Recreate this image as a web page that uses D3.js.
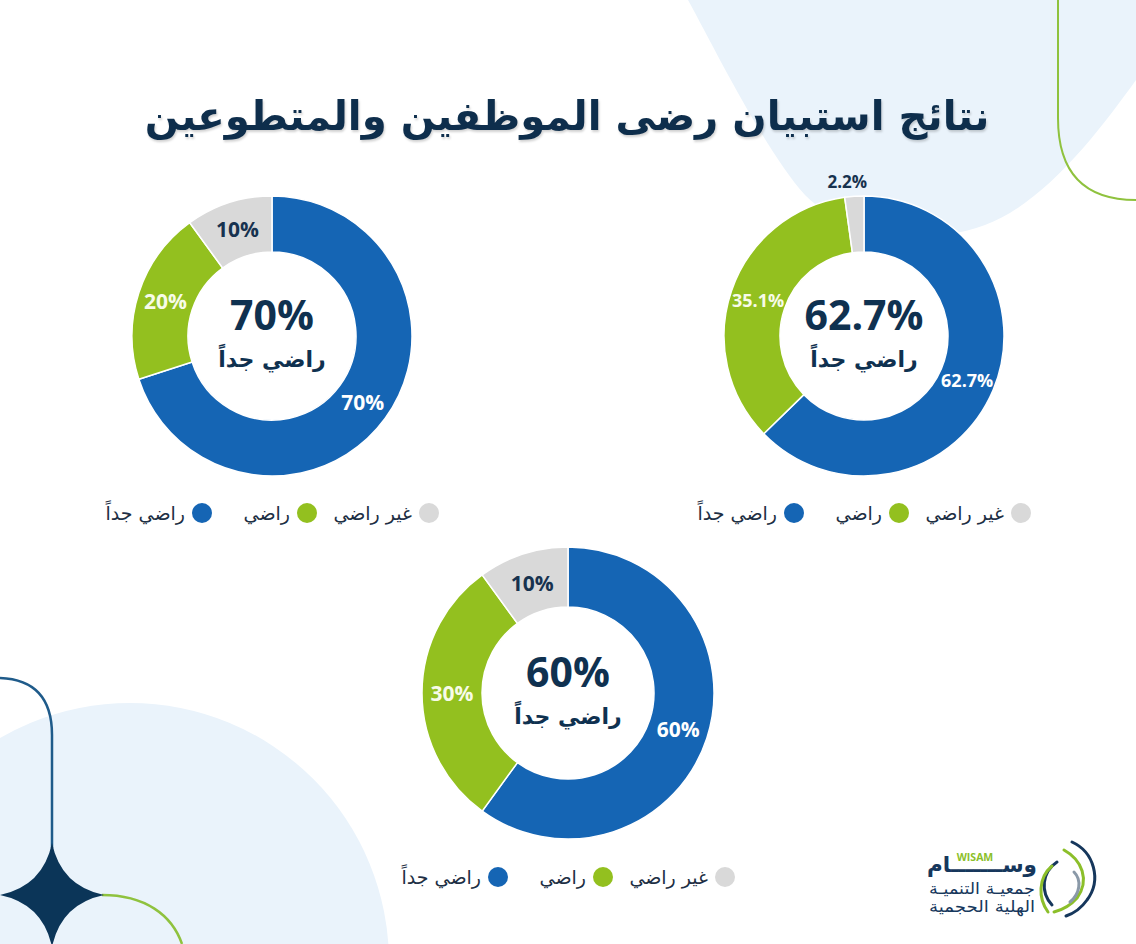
<!DOCTYPE html>
<html>
<head>
<meta charset="utf-8">
<script src="https://cdn.jsdelivr.net/npm/d3@7/dist/d3.min.js"></script>
<style>
  html, body { margin: 0; padding: 0; background: #ffffff; }
  svg { display: block; }
</style>
</head>
<body>
<svg id="chart" width="1136" height="944"></svg>
<script>
// ---- data ----
const titleText = "نتائج استبيان رضى الموظفين والمتطوعين";
const categories = ["راضي جداً", "راضي", "غير راضي"];
const survey1 = [62.7, 35.1, 2.2];   // top-right donut
const survey2 = [70, 20, 10];        // top-left donut
const survey3 = [60, 30, 10];        // bottom donut
const centerCaption = "راضي جداً";
const logoName = "وســـــــام";
const logoLatin = "WISAM";
const logoLine1 = "جمعيـة التنميـة";
const logoLine2 = "الهلية الحجمية";

// ---- style / layout ----
const palette = ["#1565b4", "#93c01f", "#d9d9d9"];
const labelFill = ["#ffffff", "#f7fbe8", "#17324f"];
const navy = "#0f3150";
const arabicFont = "'DejaVu Sans', 'Noto Sans', sans-serif";
const numFont = "'Open Sans', 'Noto Sans', sans-serif";

const charts = [
  { values: survey1, cx: 864, cy: 336, r: 140, ir: 84, labelSize: 18, legendY: 513 },
  { values: survey2, cx: 272, cy: 336, r: 140, ir: 84, labelSize: 21, legendY: 513 },
  { values: survey3, cx: 568, cy: 693, r: 146, ir: 86, labelSize: 21, legendY: 877 }
];
const legendOffsets = [-70, 35, 157];

const svg = d3.select("#chart");

// ---- background decorations ----
const deco = svg.append("g");
deco.append("path")
  .attr("d", "M688,0 C718,55 765,150 805,195 C850,240 920,248 985,225 C1045,203 1100,130 1136,80 L1136,0 Z")
  .attr("fill", "#eaf3fb");
deco.append("circle").attr("cx", 130).attr("cy", 962).attr("r", 259).attr("fill", "#eaf3fb");
deco.append("path")
  .attr("d", "M1058,0 V118 Q1058,200 1136,200")
  .attr("fill", "none").attr("stroke", "#8fc23e").attr("stroke-width", 2);
deco.append("path")
  .attr("d", "M0,678 Q52,680 52,735 V848")
  .attr("fill", "none").attr("stroke", "#1f5b8a").attr("stroke-width", 2.5);
deco.append("path")
  .attr("d", "M102,895 C145,895 172,915 182,944")
  .attr("fill", "none").attr("stroke", "#8fc23e").attr("stroke-width", 2.5);
{
  const sx = 52, sy = 895, a = 52, k = 9;
  deco.append("path")
    .attr("d", `M${sx},${sy - a} Q${sx + k},${sy - k} ${sx + a},${sy} Q${sx + k},${sy + k} ${sx},${sy + a} Q${sx - k},${sy + k} ${sx - a},${sy} Q${sx - k},${sy - k} ${sx},${sy - a} Z`)
    .attr("fill", "#0b3558");
}

// ---- title ----
const title = svg.append("text")
  .attr("x", 567).attr("y", 130)
  .attr("text-anchor", "middle")
  .attr("font-family", arabicFont)
  .attr("font-weight", "bold")
  .attr("font-size", 46)
  .attr("fill", "#0e2e4c")
  .style("filter", "drop-shadow(1px 2px 1px rgba(0,0,0,0.18))")
  .text(titleText);
{
  const w = title.node().getComputedTextLength();
  const target = 845;
  title.attr("font-size", 46 * target / w);
}

// ---- donuts ----
const pie = d3.pie().sort(null).startAngle(0).endAngle(2 * Math.PI);
const fmt = v => (Number.isInteger(v) ? v : v.toFixed(1)) + "%";

charts.forEach(ch => {
  const g = svg.append("g").attr("transform", `translate(${ch.cx},${ch.cy})`);
  const arcs = pie(ch.values);
  const arc = d3.arc().innerRadius(ch.ir).outerRadius(ch.r);
  const midArc = d3.arc().innerRadius((ch.ir + ch.r) / 2).outerRadius((ch.ir + ch.r) / 2);
  const outArc = d3.arc().innerRadius(ch.r + 15).outerRadius(ch.r + 15);

  g.selectAll("path.slice").data(arcs).join("path")
    .attr("class", "slice")
    .attr("d", arc)
    .attr("fill", (d, i) => palette[i])
    .attr("stroke", "#ffffff")
    .attr("stroke-width", 1.5);

  g.selectAll("text.lbl").data(arcs).join("text")
    .attr("class", "lbl")
    .each(function (d, i) {
      const small = d.data < 5;
      const [x, y] = (small ? outArc : midArc).centroid(d);
      d3.select(this)
        .attr("x", small ? x - 6 : x)
        .attr("y", y)
        .attr("fill", small ? labelFill[2] : labelFill[i]);
    })
    .attr("text-anchor", "middle")
    .attr("dominant-baseline", "central")
    .attr("font-family", numFont)
    .attr("font-weight", "bold")
    .attr("font-size", d => d.data < 5 ? 17 : ch.labelSize)
    .text(d => fmt(d.data));

  // center
  g.append("text")
    .attr("x", 0).attr("y", -6)
    .attr("text-anchor", "middle")
    .attr("font-family", numFont)
    .attr("font-weight", "bold")
    .attr("font-size", 41)
    .attr("fill", navy)
    .text(fmt(ch.values[0]));
  g.append("text")
    .attr("x", 0).attr("y", 31)
    .attr("text-anchor", "middle")
    .attr("font-family", arabicFont)
    .attr("font-weight", "bold")
    .attr("font-size", 22)
    .attr("fill", navy)
    .text(centerCaption);

  // legend
  const lg = svg.append("g");
  categories.forEach((c, i) => {
    const dx = ch.cx + legendOffsets[i];
    lg.append("circle").attr("cx", dx).attr("cy", ch.legendY).attr("r", 10).attr("fill", palette[i]);
    lg.append("text")
      .attr("x", dx - 17).attr("y", ch.legendY)
      .attr("text-anchor", "end")
      .attr("dominant-baseline", "central")
      .attr("font-family", arabicFont)
      .attr("font-size", 19)
      .attr("fill", "#1d2f44")
      .text(c);
  });
});

// ---- logo ----
const logo = svg.append("g");
const nameText = logo.append("text").attr("x", 1037).attr("y", 872).attr("text-anchor", "end")
  .attr("font-family", arabicFont).attr("font-weight", "bold").attr("font-size", 24)
  .attr("fill", "#16375c").text(logoName);
{
  const w = nameText.node().getComputedTextLength();
  nameText.attr("font-size", Math.min(26, 24 * 110 / w));
}
logo.append("text").attr("x", 975).attr("y", 861).attr("text-anchor", "middle")
  .attr("font-family", numFont).attr("font-weight", "bold").attr("font-size", 10.5)
  .attr("fill", "#8cbf2a").text(logoLatin);
const l1 = logo.append("text").attr("x", 1035).attr("y", 894).attr("text-anchor", "end")
  .attr("font-family", arabicFont).attr("font-size", 16)
  .attr("fill", "#16375c").text(logoLine1);
const l2 = logo.append("text").attr("x", 1035).attr("y", 912).attr("text-anchor", "end")
  .attr("font-family", arabicFont).attr("font-size", 16)
  .attr("fill", "#16375c").text(logoLine2);
[l1, l2].forEach(t => {
  t.attr("textLength", 106).attr("lengthAdjust", "spacingAndGlyphs");
});
const icon = logo.append("g").attr("fill", "none").attr("stroke-linecap", "round");
icon.append("path").attr("d", "M1072,842 C1094,852 1102,880 1087,900 C1080,910 1072,914 1066,916").attr("stroke", "#16375c").attr("stroke-width", 3);
icon.append("path").attr("d", "M1064,850 C1082,860 1090,880 1077,898 C1070,906 1062,910 1054,912").attr("stroke", "#8cbf2a").attr("stroke-width", 3);
icon.append("path").attr("d", "M1057,862 C1042,872 1040,892 1052,905").attr("stroke", "#16375c").attr("stroke-width", 3);
icon.append("path").attr("d", "M1052,866 C1038,878 1038,898 1048,912").attr("stroke", "#8cbf2a").attr("stroke-width", 3);
icon.append("path").attr("d", "M1074,872 C1082,880 1080,894 1070,902").attr("stroke", "#8a99a8").attr("stroke-width", 3);
</script>
</body>
</html>
